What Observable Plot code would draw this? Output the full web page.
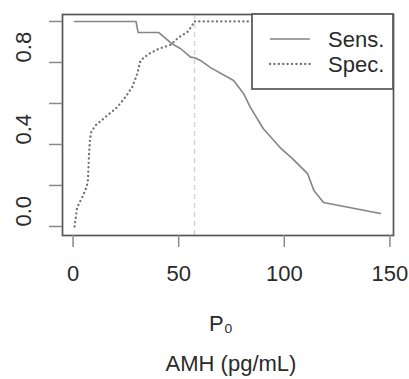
<!DOCTYPE html>
<html>
<head>
<meta charset="utf-8">
<script src="https://cdn.jsdelivr.net/npm/d3@7"></script>
<script src="https://cdn.jsdelivr.net/npm/@observablehq/plot@0.6"></script>
<style>
  html, body { margin: 0; padding: 0; background: #fff; }
  svg { display: block; }
</style>
</head>
<body>
<div id="chart"></div>
<script>
// Sensitivity (solid)
const sensX = [0.7, 29.8, 30.8, 40.6, 47, 51, 55.6, 57.6, 60.3, 65.1, 76, 80.7, 84, 90, 98, 104, 111, 114, 118.6, 145.5];
const sensY = [1, 1, 0.946, 0.946, 0.89, 0.867, 0.826, 0.823, 0.81, 0.775, 0.712, 0.649, 0.58, 0.478, 0.385, 0.33, 0.258, 0.176, 0.117, 0.063];
// Specificity (dotted)
const specX = [0.7, 1.97, 4.34, 6.39, 7.02, 7.5, 7.97, 8.6, 10.6, 16.2, 20.9, 24.8, 28, 30.4, 31.9, 35.9, 40.6, 46.1, 50.1, 54, 56.4, 57.2, 85];
const specY = [0, 0.094, 0.143, 0.192, 0.224, 0.338, 0.42, 0.46, 0.493, 0.541, 0.582, 0.631, 0.68, 0.745, 0.81, 0.842, 0.867, 0.886, 0.923, 0.948, 0.98, 1.0, 1.0];
// Optimal cutoff
const cutoff = [57.5];
// Ticks
const xTicks = [0, 50, 100, 150];
const yTicks = [0, 0.2, 0.4, 0.6, 0.8, 1.0];
const yLabels = [0, 0.4, 0.8];
const xTitle = "P₀";
const xSubtitle = "AMH (pg/mL)";
const legendLabels = ["Sens.", "Spec."];

const sens = sensX.map((x, i) => ({x, y: sensY[i]}));
const spec = specX.map((x, i) => ({x, y: specY[i]}));

const FONT = "'Liberation Sans', Arial, Helvetica, sans-serif";
const FS = 22;
const lineColor = "#858585";
const textColor = "#2a2a2a";
const DOT = "0.1,4.3";

const chart = Plot.plot({
  width: 409,
  height: 379,
  marginLeft: 62,
  marginRight: 16,
  marginTop: 14,
  marginBottom: 144,
  style: {fontFamily: FONT, fontSize: FS + "px", color: textColor, background: "#fff"},
  x: {domain: [-5, 151.7]},
  y: {domain: [-0.044, 1.034]},
  marks: [
    Plot.ruleX(cutoff, {stroke: "#d0d0d0", strokeWidth: 1.3, strokeDasharray: "5,4"}),
    Plot.line(sens, {x: "x", y: "y", stroke: lineColor, strokeWidth: 1.6}),
    Plot.line(spec, {x: "x", y: "y", stroke: "#707070", strokeWidth: 2.3, strokeDasharray: DOT, strokeLinecap: "round"}),
    Plot.frame({stroke: "#555", strokeWidth: 1.7}),
    Plot.axisX({ticks: xTicks, tickSize: 12, tickPadding: 18, stroke: "#8a8a8a", strokeWidth: 1.5,
                tickFormat: d => String(d), fill: textColor, fontSize: FS, label: null}),
    Plot.axisY({ticks: yTicks, tickSize: 13, stroke: "#8a8a8a", strokeWidth: 1.5,
                tickFormat: () => "", label: null}),
    Plot.text(yLabels, {y: d => d, text: d => d.toFixed(1), frameAnchor: "left", dx: -39,
                        rotate: -90, fill: textColor, fontSize: FS}),
    Plot.text([xTitle], {text: d => d, frameAnchor: "bottom", dy: 95, dx: -7, fill: textColor, fontSize: FS}),
    Plot.text([xSubtitle], {text: d => d, frameAnchor: "bottom", dy: 135, dx: 3, fill: textColor, fontSize: FS})
  ]
});

document.getElementById("chart").appendChild(chart);

// Legend (top-right, white box)
const svg = d3.select(chart);
const lg = svg.append("g").attr("font-family", FONT).attr("font-size", FS).attr("text-anchor", "start");
lg.append("rect").attr("x", 252).attr("y", 14).attr("width", 141).attr("height", 75)
  .attr("fill", "#fff").attr("stroke", "#555").attr("stroke-width", 1.7);
const rows = [
  {label: legendLabels[0], dash: null, w: 1.6, y: 39, c: lineColor},
  {label: legendLabels[1], dash: DOT, w: 2.3, y: 64, c: "#707070"}
];
rows.forEach(r => {
  const ln = lg.append("line").attr("x1", 270).attr("x2", 310).attr("y1", r.y).attr("y2", r.y)
    .attr("stroke", r.c).attr("stroke-width", r.w);
  if (r.dash) ln.attr("stroke-dasharray", r.dash).attr("stroke-linecap", "round");
  lg.append("text").attr("x", 328).attr("y", r.y).attr("dy", "0.35em").attr("fill", textColor).text(r.label);
});
</script>
</body>
</html>
